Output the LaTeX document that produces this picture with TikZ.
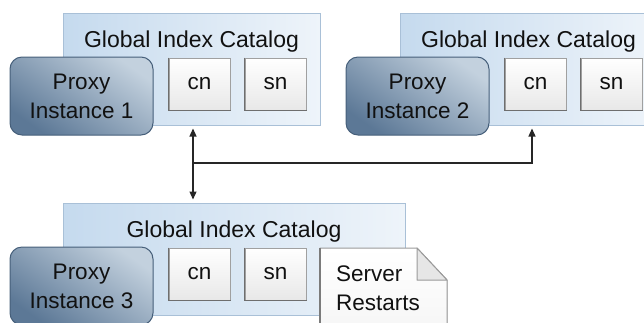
\documentclass[tikz,border=0pt]{standalone}
\usepackage{fontspec}
\setmainfont{Liberation Sans}
\usetikzlibrary{positioning,arrows.meta}
\definecolor{catfillL}{HTML}{C5DAEE}
\definecolor{catfillR}{HTML}{EEF4FA}
\definecolor{catedge}{HTML}{A9C0D7}
\definecolor{proxydark}{HTML}{5C7896}
\definecolor{proxylight}{HTML}{C3D1DE}
\definecolor{proxyedge}{HTML}{465F7A}
\definecolor{attredge}{HTML}{A0A0A0}
\definecolor{attrshade}{HTML}{6E6E6E}
\definecolor{docedge}{HTML}{9A9A9A}
\definecolor{docfold}{HTML}{E6E6E6}
\definecolor{inktext}{HTML}{111111}

\begin{document}
\begin{tikzpicture}[x=1pt, y=-1pt,
node distance=14pt,
catalog/.style={draw=catedge, line width=1pt, left color=catfillL, right color=catfillR, minimum height=112pt, inner sep=0pt},
title/.style={anchor=base, inner sep=0pt, font=\fontsize{23}{28}\selectfont, text=inktext},
proxy/.style={draw=proxyedge, line width=1pt, rounded corners=12pt, top color=proxylight, bottom color=proxydark, shading angle=-35, minimum width=143pt, minimum height=78pt, align=center, font=\fontsize{22.5}{29}\selectfont, text=inktext},
attr/.style={draw=attredge, line width=1pt, top color=white, bottom color=black!9, minimum width=61pt, minimum height=52pt, inner sep=0pt, font=\fontsize{22.5}{28}\selectfont, text=inktext},
shadeline/.style={draw=attrshade, line width=1.3pt},
doctext/.style={anchor=north west, minimum width=127pt, minimum height=80pt, text width=95pt, inner xsep=16pt, align=left, font=\fontsize{22.5}{29}\selectfont, text=inktext},
docline/.style={draw=docedge, line width=1pt, line join=round},
link/.style={-{Triangle[length=8pt,width=7pt]}, line width=1.2pt, draw=black!85, shorten >=3pt},
dlink/.style={{Triangle[length=8pt,width=7pt]}-{Triangle[length=8pt,width=7pt]}, line width=1.2pt, draw=black!85, shorten >=3pt, shorten <=3pt}
]
\useasboundingbox (0,0) rectangle (644,322);
\clip (0,0) rectangle (644,322);

\node[catalog, minimum width=257pt] (cat1) at (191.5,69) {};
\node[title] (title1) at ([yshift=-35pt]cat1.north) {Global Index Catalog};
\node[proxy] (proxy1) at (81.5,96) {Proxy\\Instance 1};
\node[attr, anchor=north west] (cn1) at ([xshift=15pt,yshift=-1pt]proxy1.north east) {cn};
\node[attr, right=of cn1] (sn1) {sn};

\node[catalog, minimum width=257pt] (cat2) at (528.5,69) {};
\node[title] (title2) at ([yshift=-35pt]cat2.north) {Global Index Catalog};
\node[proxy] (proxy2) at (417.5,96) {Proxy\\Instance 2};
\node[attr, anchor=north west] (cn2) at ([xshift=15pt,yshift=-1pt]proxy2.north east) {cn};
\node[attr, right=of cn2] (sn2) {sn};

\node[catalog, minimum width=342pt] (cat3) at (234,259) {};
\node[title] (title3) at ([yshift=-35pt]cat3.north) {Global Index Catalog};
\node[proxy] (proxy3) at (81.5,286) {Proxy\\Instance 3};
\node[attr, anchor=north west] (cn3) at ([xshift=15pt,yshift=-1pt]proxy3.north east) {cn};
\node[attr, right=of cn3] (sn3) {sn};

\foreach \attrbox in {cn1,sn1,cn2,sn2,cn3,sn3}
  \draw[shadeline] (\attrbox.north west) -- (\attrbox.south west) -- (\attrbox.south east);

\coordinate (restart) at (320,248);
\filldraw[docline, top color=white, bottom color=black!4] (restart) -- ++(97,0) -- ++(30,32) -- ++(0,60) -- ++(-127,0) -- cycle;
\filldraw[docline, fill=docfold] ([xshift=97pt]restart) -- ++(0,32) -- ++(30,0) -- cycle;
\draw[shadeline, draw=docedge!80!black] (restart) -- ++(0,80);
\node[doctext] (restarttext) at (restart) {Server\\Restarts};

\coordinate (hub) at (193,163);
\coordinate (turn) at (532,163);
\draw[dlink] (cat1.south -| hub) -- (cat3.north -| hub);
\draw[link] (hub) -- (turn) -- (turn |- cat2.south);
\end{tikzpicture}
\end{document}
